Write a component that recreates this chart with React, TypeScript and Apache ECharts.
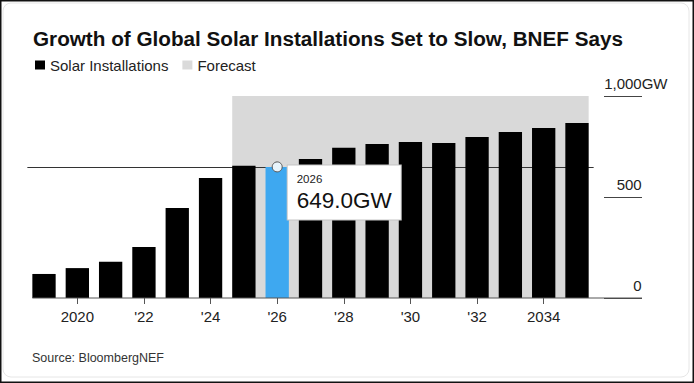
import React, { useEffect, useRef } from "react";
import * as echarts from "echarts";

const years = ["2019", "2020", "2021", "2022", "2023", "2024", "2025", "2026", "2027", "2028", "2029", "2030", "2031", "2032", "2033", "2034", "2035"];
const installations = [119, 148, 180, 252, 446, 594, 655, 649, 688, 744, 762, 772, 767, 797, 822, 842, 866];
const highlightYear = "2026";
const forecastStartYear = "2025";
const forecastEndYear = "2035";
const forecastCeiling = 1000;
const fullLabelYears = ["2020", "2034"];
const unit = "GW";

const FONT = "'Liberation Sans', Arial, Helvetica, sans-serif";
const BAR_RATIO = 0.7;

export default function App() {
  const ref = useRef<HTMLDivElement>(null);

  useEffect(() => {
    if (!ref.current) return;
    const chart = echarts.init(ref.current, null, { renderer: "svg" });
    const hiIdx = years.indexOf(highlightYear);
    const hiValue = installations[hiIdx];
    const fStart = years.indexOf(forecastStartYear);
    const fEnd = years.indexOf(forecastEndYear);
    const showEven = (index: number) => Number(years[index]) % 2 === 0;

    chart.setOption({
      animation: false,
      backgroundColor: "#ffffff",
      title: [
        {
          text: "Growth of Global Solar Installations Set to Slow, BNEF Says",
          left: 33,
          top: 26,
          padding: 0,
          textStyle: { fontFamily: FONT, fontSize: 20.7, fontWeight: "bold", color: "#111", lineHeight: 24 },
        },
        {
          text: "Source: BloombergNEF",
          left: 32,
          top: 350,
          padding: 0,
          textStyle: { fontFamily: FONT, fontSize: 12.5, fontWeight: "normal", color: "#333", lineHeight: 15 },
        },
      ],
      legend: {
        left: 35,
        top: 56,
        padding: 0,
        itemWidth: 10,
        itemHeight: 9,
        itemGap: 14,
        selectedMode: false,
        icon: "rect",
        textStyle: { fontFamily: FONT, fontSize: 15, color: "#222", lineHeight: 18 },
        data: [
          { name: "Solar Installations", itemStyle: { color: "#000" } },
          { name: "Forecast", itemStyle: { color: "#dadada" } },
        ],
      },
      grid: { left: 27.35, right: 100.35, top: 96, bottom: 85, containLabel: false },
      xAxis: {
        type: "category",
        data: years,
        axisLine: { show: false },
        axisTick: {
          show: true,
          alignWithLabel: true,
          interval: (index: number) => showEven(index),
          length: 6,
          lineStyle: { color: "#555", width: 1 },
        },
        axisLabel: {
          interval: (index: number) => showEven(index),
          margin: 11,
          fontFamily: FONT,
          fontSize: 15,
          color: "#222",
          formatter: (v: string) => (fullLabelYears.includes(v) ? v : "'" + v.slice(2)),
        },
      },
      yAxis: {
        type: "value",
        position: "right",
        offset: 10.35,
        min: 0,
        max: forecastCeiling,
        interval: 500,
        splitLine: { show: false },
        axisLine: { show: false },
        axisTick: { show: true, inside: false, length: 38, lineStyle: { color: "#444", width: 1 } },
        axisLabel: {
          margin: 37.7,
          align: "right",
          verticalAlign: "bottom",
          padding: [0, 0, 5, 0],
          lineHeight: 15,
          fontFamily: FONT,
          fontSize: 15,
          color: "#222",
          formatter: (v: number) =>
            v === forecastCeiling
              ? `{n|${v.toLocaleString("en-US")}}{u|${unit}}`
              : `{n|${v.toLocaleString("en-US")}}`,
          rich: {
            n: { fontFamily: FONT, fontSize: 15, lineHeight: 15, color: "#222", align: "left" },
            u: { fontFamily: FONT, fontSize: 15, lineHeight: 15, color: "#222", width: 0, align: "left" },
          },
        },
      },
      series: [
        {
          name: "Forecast",
          type: "custom",
          z: 1,
          silent: true,
          itemStyle: { color: "#d9d9d9" },
          encode: { x: [0, 1], y: 2 },
          data: [[fStart, fEnd, forecastCeiling]],
          renderItem: (params: any, api: any) => {
            const top = api.coord([api.value(0), api.value(2)]);
            const bottom = api.coord([api.value(1), 0]);
            const bw = api.size([1, 0])[0];
            const x0 = top[0] - (bw * BAR_RATIO) / 2;
            const x1 = bottom[0] + (bw * BAR_RATIO) / 2;
            return {
              type: "rect",
              shape: { x: x0, y: top[1], width: x1 - x0, height: bottom[1] - top[1] },
              style: { fill: "#d9d9d9" },
            };
          },
          markLine: {
            silent: true,
            z: 1.5,
            symbol: ["none", "none"],
            label: { show: false },
            lineStyle: { color: "#333", width: 1, type: "solid" },
            data: [{ yAxis: hiValue }],
          },
        },
        {
          name: "Solar Installations",
          type: "bar",
          z: 2,
          barWidth: BAR_RATIO * 100 + "%",
          itemStyle: { color: "#000" },
          data: installations.map((v, i) =>
            i === hiIdx ? { value: v, itemStyle: { color: "#3ea8f0" } } : v
          ),
          markPoint: {
            silent: true,
            symbol: "circle",
            symbolSize: 10,
            itemStyle: { color: "#e8f4fb", borderColor: "#555", borderWidth: 1 },
            label: {
              show: true,
              position: [16, 4],
              backgroundColor: "#fff",
              borderColor: "#c4c4c4",
              borderWidth: 1,
              padding: [6, 9, 6, 9],
              fontFamily: FONT,
              formatter: () => `{a|${highlightYear}}\n{b|${hiValue.toFixed(1)}${unit}}`,
              rich: {
                a: { fontFamily: FONT, fontSize: 11.5, lineHeight: 16, color: "#222" },
                b: { fontFamily: FONT, fontSize: 22.5, lineHeight: 26, color: "#111" },
              },
            },
            data: [{ coord: [highlightYear, hiValue] }],
          },
        },
      ],
    });

    const y0 = chart.convertToPixel({ yAxisIndex: 0 }, 0) as number;
    const firstX = chart.convertToPixel({ xAxisIndex: 0 }, years[0]) as number;
    const secondX = chart.convertToPixel({ xAxisIndex: 0 }, years[1]) as number;
    const band = secondX - firstX;
    const lineStart = firstX - (band * BAR_RATIO) / 2;
    const lineEnd = 642;

    chart.setOption({
      graphic: [
        {
          type: "line",
          silent: true,
          z: 10,
          shape: { x1: lineStart, y1: y0, x2: lineEnd, y2: y0 },
          style: { stroke: "#555", lineWidth: 1 },
        },
        {
          type: "rect",
          silent: true,
          z: 20,
          shape: { x: 3, y: 3, width: 686, height: 374, r: 8 },
          style: { fill: "none", stroke: "#e6e6e6", lineWidth: 1 },
        },
        {
          type: "rect",
          silent: true,
          z: 21,
          shape: { x: 0.75, y: 0.75, width: 692.5, height: 381.5 },
          style: { fill: "none", stroke: "#111", lineWidth: 1.5 },
        },
      ],
    });

    return () => chart.dispose();
  }, []);

  return (
    <div
      ref={ref}
      style={{ position: "fixed", left: 0, top: 0, width: 694, height: 383, background: "#fff" }}
    />
  );
}
